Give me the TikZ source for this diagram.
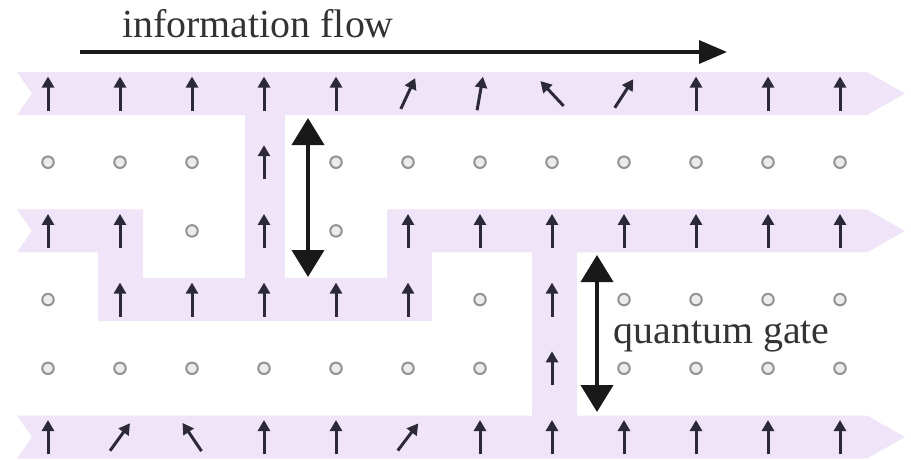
\documentclass[tikz,border=0pt]{standalone}
\usepackage{fontspec}
\setmainfont{Liberation Serif}
\usetikzlibrary{arrows.meta, calc}
\definecolor{bandlilac}{RGB}{240,229,248}
\definecolor{spingray}{RGB}{45,42,55}

\begin{document}
\begin{tikzpicture}[
    font=\fontsize{22.7}{27}\selectfont,
    % styles
    band/.style={fill=bandlilac, draw=none},
    spin/.style={
      -{Triangle[length=0.22cm, width=0.24cm]},
      color=spingray, line width=0.06cm
    },
    hole/.style={
      circle, draw=gray!85, fill=gray!15,
      inner sep=0pt, minimum size=0.23cm, line width=0.04cm
    },
    gate/.style={
      {Triangle[length=0.54cm, width=0.64cm]}-{Triangle[length=0.54cm, width=0.64cm]},
      color=black!90, line width=0.08cm
    },
    flow/.style={
      -{Triangle[length=0.56cm, width=0.46cm]},
      color=black!90, line width=0.07cm
    },
    lbltext/.style={text=black!80, inner sep=0pt, anchor=base}
  ]
  \useasboundingbox (0,0) rectangle (18.22,-9.18);

  % Wires (rows 0, 2, 3, 5 and the vertical links)
  \foreach \y in {-1.87,-8.74}
    \fill[band] (0.34,\y+0.43) -- (17.34,\y+0.43) -- (18.10,\y)
      -- (17.34,\y-0.43) -- (0.34,\y-0.43) -- (0.64,\y) -- cycle;
  \fill[band] (0.34,-4.188) -- (2.86,-4.188) -- (2.86,-5.048)
    -- (0.34,-5.048) -- (0.64,-4.618) -- cycle;
  \fill[band] (7.74,-4.188) -- (17.34,-4.188) -- (18.10,-4.618)
    -- (17.34,-5.048) -- (7.74,-5.048) -- cycle;
  \fill[band] (1.96,-5.562) rectangle (8.64,-6.422);
  \fill[band] (1.96,-4.618) rectangle (2.86,-5.992);
  \fill[band] (7.74,-4.618) rectangle (8.64,-5.992);
  \fill[band] (4.90,-1.87) rectangle (5.70,-5.992);
  \fill[band] (10.64,-4.618) rectangle (11.54,-8.74);

  % Sites: spin angle, -1 for an empty site
  \foreach \row [count=\r from 0] in {
      {90,90,90,90,90,65,80,133,57,90,90,90},
      {-1,-1,-1,90,-1,-1,-1,-1,-1,-1,-1,-1},
      {90,90,-1,90,-1,90,90,90,90,90,90,90},
      {-1,90,90,90,90,90,-1,90,-1,-1,-1,-1},
      {-1,-1,-1,-1,-1,-1,-1,90,-1,-1,-1,-1},
      {90,54,124,90,90,53,90,90,90,90,90,90}}
    \foreach \a [count=\c from 0] in \row {
      \ifnum\a<0
        \node[hole] (s-\r-\c) at (0.96+1.44*\c, -1.87-1.374*\r) {};
      \else
        \coordinate (s-\r-\c) at (0.96+1.44*\c, -1.87-1.374*\r);
        \draw[spin] ($(s-\r-\c)+(\a:-0.34)$) -- ($(s-\r-\c)+(\a:0.34)$);
      \fi
    };

  % Labels
  \node[lbltext] (flowtext) at (5.16,-0.76) {information flow};
  \node[lbltext] (gatetext) at (14.43,-6.86) {quantum gate};

  % Arrows
  \coordinate (flow-start) at (1.60,-1.04);
  \coordinate (flow-end) at (14.54,-1.04);
  \draw[flow] (flow-start) -- (flow-end);

  \coordinate (gate1-top) at (6.16,-2.36);
  \coordinate (gate1-bot) at (6.16,-5.54);
  \draw[gate] (gate1-top) -- (gate1-bot);

  \coordinate (gate2-top) at (11.94,-5.10);
  \coordinate (gate2-bot) at (11.94,-8.24);
  \draw[gate] (gate2-top) -- (gate2-bot);

\end{tikzpicture}
\end{document}
